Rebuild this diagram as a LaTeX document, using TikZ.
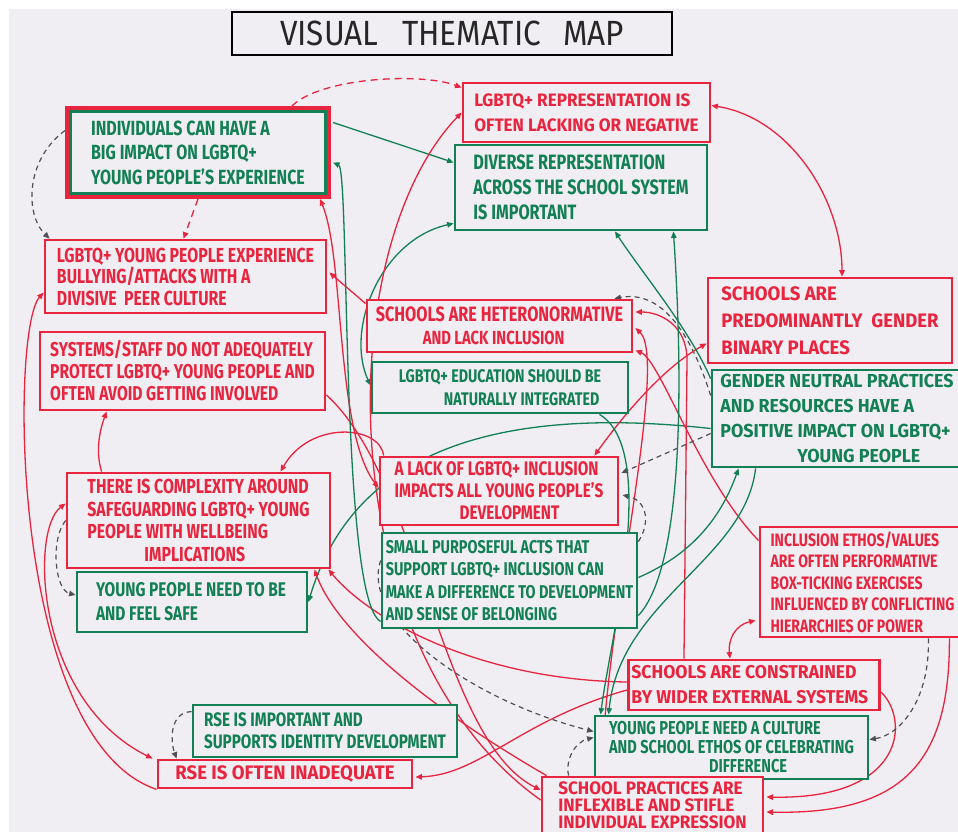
\documentclass[tikz,border=0pt]{standalone}
\usepackage{fontspec}
\setmainfont{Fira Sans}[FakeStretch=0.78]
\newfontfamily\widefont{Fira Sans}[FakeStretch=0.95]
\newfontfamily\titlefont{Fira Sans}[FakeStretch=0.9]
\usetikzlibrary{arrows.meta,calc}
\definecolor{mred}{RGB}{232,36,62}
\definecolor{mgreen}{RGB}{18,128,84}
\definecolor{mgray}{RGB}{80,80,84}
\definecolor{paper}{RGB}{240,238,243}
\newcommand{\hf}[2]{\fontsize{#1}{#2}\selectfont\bfseries}
\newcommand{\wf}[2]{\widefont\fontsize{#1}{#2}\selectfont\bfseries}
\pgfdeclarelayer{bg}
\pgfsetlayers{bg,main}
\begin{document}
\begin{tikzpicture}[x=1pt,y=-1pt,
  >={Triangle[length=6.5pt,width=5.5pt]},
  rbox/.style={draw=mred,line width=2.8pt,text=mred,fill=paper,inner sep=3pt,align=left},
  gbox/.style={draw=mgreen,line width=2.8pt,text=mgreen,fill=paper,inner sep=3pt,align=left},
  rl/.style={draw=mred,line width=1.3pt},
  gl/.style={draw=mgreen,line width=1.3pt},
  dl/.style={draw=mgray,line width=1.2pt,dash pattern=on 5pt off 4pt},
  rdl/.style={draw=mred,line width=1.3pt,dash pattern=on 7pt off 5pt},
]
\useasboundingbox (0,0) rectangle (958,832);
\clip (0,0) rectangle (958,832);
\begin{pgfonlayer}{bg}
\fill[white] (0,0) rectangle (958,832);
\fill[paper] (9,9) rectangle (958,832);
\end{pgfonlayer}

% title
\node[draw=black,line width=1.8pt,minimum width=440pt,minimum height=43pt,font=\titlefont\fontsize{35}{36}\selectfont,text=black!85] (title) at (452,33.5) {VISUAL\hspace{24pt}THEMATIC\hspace{22pt}MAP};

% left column
\node[draw=mred,line width=4pt,fill=paper,minimum width=262pt,minimum height=89pt] (b1o) at (198,152.5) {};
\node[gbox,line width=2.4pt,minimum width=255pt,minimum height=82pt,font=\hf{20.5}{24.5}] (b1) at (198,152.5) {INDIVIDUALS CAN HAVE A\\BIG IMPACT ON LGBTQ+\\YOUNG PEOPLE'S EXPERIENCE};
\node[rbox,minimum width=281pt,minimum height=73pt,font=\hf{20.3}{21.5}] (b2) at (185.5,276.5) {LGBTQ+ YOUNG PEOPLE EXPERIENCE\\BULLYING/ATTACKS WITH A\\DIVISIVE\ \ PEER CULTURE};
\node[rbox,minimum width=285pt,minimum height=78pt,font=\hf{20}{22}] (b3) at (182.5,371) {SYSTEMS/STAFF DO NOT ADEQUATELY\\PROTECT LGBTQ+ YOUNG PEOPLE AND\\OFTEN AVOID GETTING INVOLVED};
\node[rbox,minimum width=263pt,minimum height=95pt,font=\hf{20.3}{22.5}] (b4) at (198.5,520.5) {THERE IS COMPLEXITY AROUND\\SAFEGUARDING LGBTQ+ YOUNG\\PEOPLE WITH WELLBEING\\\hspace*{57pt}IMPLICATIONS};
\node[gbox,minimum width=230pt,minimum height=60pt,font=\hf{19.8}{24}] (b5) at (192,602) {YOUNG PEOPLE NEED TO BE\\AND FEEL SAFE\hspace*{90pt}};
\node[gbox,minimum width=264pt,minimum height=52pt,font=\hf{19.5}{22}] (b6) at (325,731) {RSE IS IMPORTANT AND\hspace*{70pt}\\SUPPORTS IDENTITY DEVELOPMENT};
\node[rbox,minimum width=254pt,minimum height=28pt,inner sep=1pt,font=\wf{19.5}{20}] (b7) at (285,774) {RSE IS OFTEN INADEQUATE};

% middle column
\node[rbox,minimum width=247pt,minimum height=59pt,font=\wf{18}{25}] (b8) at (586.5,112.5) {LGBTQ+ REPRESENTATION IS\\OFTEN LACKING OR NEGATIVE};
\node[gbox,minimum width=252pt,minimum height=85pt,font=\hf{20.8}{25}] (b9) at (581,187.5) {DIVERSE REPRESENTATION\\ACROSS THE SCHOOL SYSTEM\\IS IMPORTANT};
\node[rbox,minimum width=265pt,minimum height=52pt,font=\hf{19}{23}] (b10) at (499.5,326) {{\fontsize{20.8}{23}\selectfont SCHOOLS ARE HETERONORMATIVE}\\\hspace*{47pt}AND LACK INCLUSION};
\node[gbox,minimum width=256pt,minimum height=51pt,font=\hf{18.3}{23}] (b11) at (500,387.5) {LGBTQ+ EDUCATION SHOULD BE\\\hspace*{45pt}NATURALLY INTEGRATED};
\node[rbox,minimum width=238pt,minimum height=68pt,font=\hf{19.6}{22}] (b12) at (499,491) {A LACK OF LGBTQ+ INCLUSION\\IMPACTS ALL YOUNG PEOPLE'S\\\hspace*{65pt}DEVELOPMENT};
\node[gbox,minimum width=255pt,minimum height=95pt,font=\hf{18.5}{22.5}] (b13) at (509.5,580.5) {SMALL PURPOSEFUL ACTS THAT\\SUPPORT LGBTQ+ INCLUSION CAN\\MAKE A DIFFERENCE TO DEVELOPMENT\\AND SENSE OF BELONGING};

% right column
\node[rbox,minimum width=244pt,minimum height=85pt,font=\wf{19.5}{27}] (b14) at (830,320.5) {SCHOOLS ARE\\PREDOMINANTLY\ \ GENDER\\BINARY PLACES};
\node[gbox,minimum width=250pt,minimum height=97pt,font=\wf{18.8}{25}] (b15) at (837,418.5) {GENDER NEUTRAL PRACTICES\\AND RESOURCES HAVE A\\POSITIVE IMPACT ON LGBTQ+\\\hspace*{77pt}YOUNG PEOPLE};
\node[rbox,minimum width=205pt,minimum height=110pt,font=\hf{18}{21.5}] (b16) at (862.5,582) {INCLUSION ETHOS/VALUES\\ARE OFTEN PERFORMATIVE\\BOX-TICKING EXERCISES\\INFLUENCED BY CONFLICTING\\HIERARCHIES OF POWER};
\node[rbox,minimum width=248pt,minimum height=50pt,font=\wf{18.5}{25}] (b17) at (754,685) {SCHOOLS ARE CONSTRAINED\hspace*{20pt}\\BY WIDER EXTERNAL SYSTEMS};
\node[gbox,minimum width=273pt,minimum height=63pt,font=\hf{18.7}{19}] (b18) at (731.5,747.5) {YOUNG PEOPLE NEED A CULTURE\\AND SCHOOL ETHOS OF CELEBRATING\\\hspace*{100pt}DIFFERENCE};
\node[rbox,minimum width=221pt,minimum height=56pt,inner sep=2pt,font=\wf{18}{17}] (b19) at (652.5,805) {SCHOOL PRACTICES ARE\\INFLEXIBLE AND STIFLE\\INDIVIDUAL EXPRESSION};

\begin{pgfonlayer}{bg}
% top area
\draw[rdl,->] ($(b1o.north east)+(-39,0)$) .. controls (320,78) and (420,72) .. ($(b8.north west)+(0,6)$);
\draw[dl,->] ($(b1o.west)+(0,-22)$) .. controls (25,160) and (25,215) .. ($(b2.north west)+(6,0)$);
\draw[rdl,->] (b1o.south) -- ($(b2.north)+(-2,0)$);
\draw[gl,->] ($(b1o.east)+(2,-30)$) -- ($(b9.west)+(0,-25)$);
\draw[rl,<->] ($(b8.east)+(0,-7)$) .. controls (790,118) and (842,200) .. ($(b14.north)+(12,0)$);
\draw[gl,<->] ($(b11.west)+(0,-2)$) .. controls (345,330) and (380,240) .. ($(b9.south west)+(0,-8)$);
\draw[rl,->] ($(b10.north west)+(0,5)$) -- ($(b2.east)+(2,-4)$);
\draw[rl,<->] ($(b1o.south east)+(-11,0)$) .. controls (345,260) and (335,430) .. ($(b12.west)+(0,-3)$);
\draw[rl,->] ($(b19.west)+(0,-5)$) .. controls (330,650) and (330,250) .. ($(b8.west)+(0,0)$);
% left side
\draw[rl,->] ($(b4.north west)+(36,0)$) .. controls (95,450) and (100,430) .. ($(b3.south west)+(68,0)$);
\draw[rl,->] ($(b12.north west)+(5,0)$) .. controls (380,425) and (310,420) .. ($(b4.north)+(82,0)$);
\draw[rl,->] ($(b7.south west)+(0,0)$) .. controls (10,740) and (10,330) .. ($(b2.west)+(0,16)$);
\draw[rl,<->] ($(b4.west)+(0,-17)$) .. controls (30,530) and (35,700) .. ($(b7.north west)+(-4,0)$);
\draw[dl,->] (b4.west) .. controls (50,540) and (55,590) .. ($(b5.west)+(0,-7)$);
\draw[gl,->] ($(b15.west)+(0,10)$) .. controls (450,400) and (345,480) .. (b5.east);
\draw[rl,->] ($(b17.west)+(0,-3)$) .. controls (480,680) and (370,620) .. ($(b4.south east)+(-3,0)$);
\draw[rl,->] ($(b19.north west)+(6,0)$) .. controls (450,720) and (340,640) .. ($(b4.south east)+(-17,0)$);
\draw[rl,->] ($(b3.east)+(0,24)$) .. controls (420,480) and (440,740) .. ($(b19.west)+(0,-15)$);
\draw[dl,->] ($(b6.north west)+(0,8)$) .. controls (170,712) and (170,740) .. ($(b7.north west)+(20,0)$);
\draw[rl,->] ($(b17.west)+(0,5)$) .. controls (520,720) and (480,775) .. ($(b7.east)+(2,3)$);
% right side
\draw[rl,<->] ($(b16.south west)+(-3,-18)$) .. controls (735,625) and (728,640) .. ($(b17.north)+(-24,0)$);
\draw[rl,->] ($(b17.east)+(0,7)$) .. controls (910,720) and (905,800) .. ($(b19.east)+(2,-8)$);
\draw[rl,->] ($(b16.south east)+(-17,0)$) .. controls (950,760) and (905,815) .. ($(b19.east)+(2,7)$);
\draw[dl,->] ($(b16.south east)+(-38,0)$) .. controls (930,700) and (900,735) .. ($(b18.east)+(0,-8)$);
\draw[dl,->] ($(b19.north west)+(28,0)$) .. controls (565,760) and (575,742) .. ($(b18.west)+(0,-10)$);
\draw[dl,->] ($(b13.west)+(0,-20)$) .. controls (360,620) and (470,700) .. ($(b18.west)+(0,-16)$);
\draw[rl,->] ($(b19.north)+(-50,0)$) .. controls (600,650) and (670,360) .. ($(b10.east)+(2,2)$);
\draw[rl,->] ($(b17.north west)+(57,0)$) -- (687,360) .. controls (687,325) and (660,312) .. ($(b10.east)+(2,-14)$);
\draw[rl,->] ($(b16.north west)+(0,15)$) .. controls (700,480) and (660,360) .. ($(b10.south east)+(2,-3)$);
\draw[dl,->] ($(b15.west)+(0,-23)$) .. controls (690,330) and (660,290) .. ($(b10.north east)+(-19,0)$);
\draw[rl,<->] ($(b14.south west)+(0,-21)$) .. controls (660,370) and (620,420) .. ($(b12.north east)+(-25,0)$);
\draw[dl,->] ($(b15.west)+(0,15)$) -- ($(b12.east)+(2,-18)$);
\draw[dl,->] ($(b13.north east)+(0,10)$) .. controls (652,520) and (645,500) .. ($(b12.east)+(3,4)$);
\draw[gl,->] ($(b13.east)+(0,-3)$) .. controls (690,555) and (720,520) .. ($(b15.south west)+(28,0)$);
\draw[gl,->] ($(b15.south west)+(45,0)$) .. controls (745,560) and (620,600) .. ($(b18.north west)+(15,0)$);
\draw[gl,->] ($(b11.south east)+(-30,0)$) .. controls (660,450) and (610,640) .. ($(b18.north west)+(7,0)$);
\draw[gl,->] ($(b13.east)+(0,35)$) .. controls (690,560) and (680,330) .. ($(b9.south east)+(-35,0)$);
\draw[gl,->] ($(b15.north west)+(0,10)$) .. controls (690,330) and (640,270) .. ($(b9.south)+(34,0)$);
\draw[gl,->] ($(b13.south west)+(0,-8)$) .. controls (340,600) and (350,170) .. ($(b1o.east)+(2,10)$);
\end{pgfonlayer}
\end{tikzpicture}
\end{document}
